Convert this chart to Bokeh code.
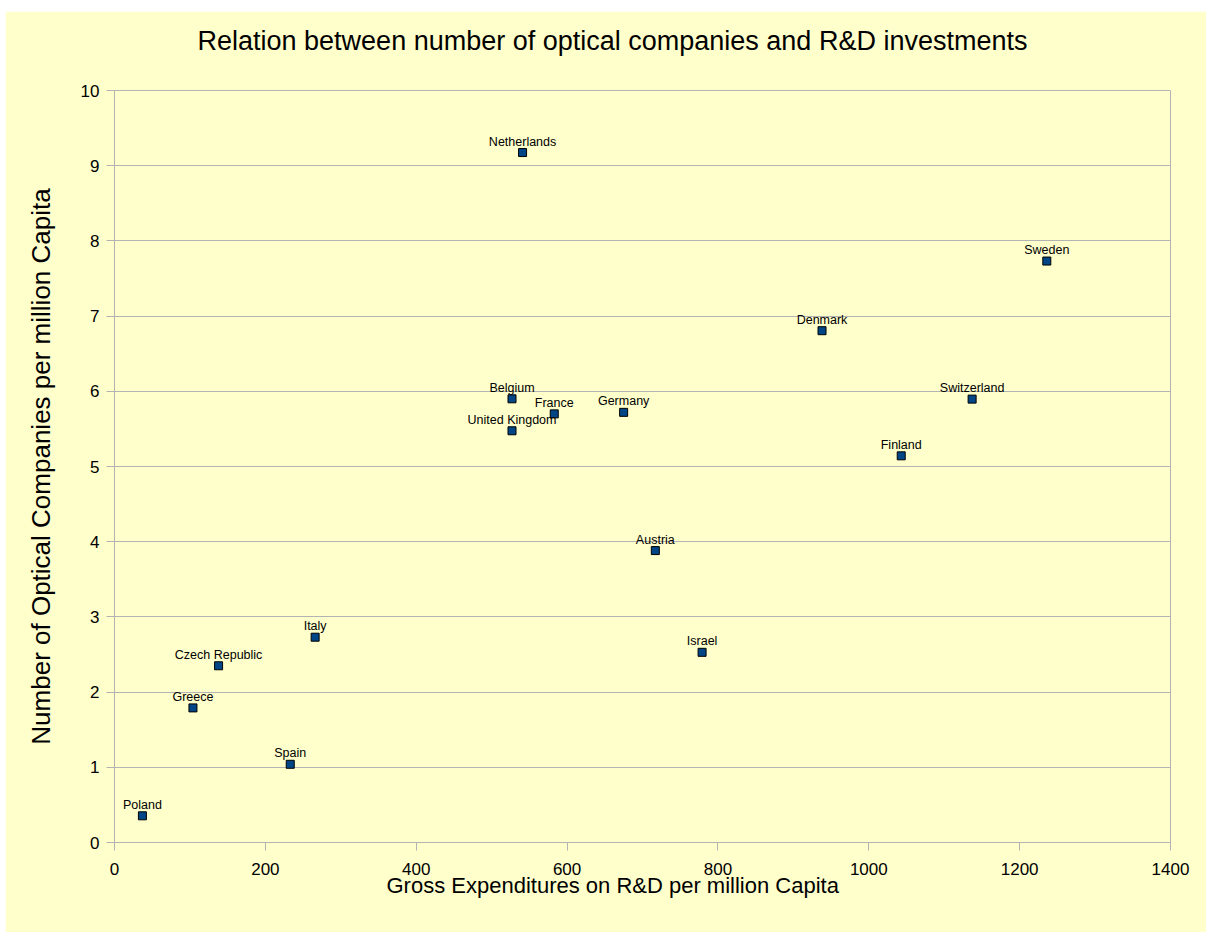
from bokeh.plotting import figure
from bokeh.models import ColumnDataSource, Range1d, FixedTicker, Title
from bokeh.embed import file_html
from bokeh.resources import INLINE
from bokeh.core.properties import value

countries = ["Poland", "Greece", "Czech Republic", "Italy", "Spain", "Netherlands",
             "Belgium", "United Kingdom", "France", "Germany", "Denmark", "Switzerland",
             "Finland", "Austria", "Israel", "Sweden"]
gerd = [37, 104, 138, 266, 233, 541, 527, 527, 583, 675, 938, 1137, 1043, 717, 779, 1236]
companies = [0.355, 1.79, 2.35, 2.73, 1.04, 9.175, 5.90, 5.475, 5.70, 5.72, 6.806, 5.896,
             5.142, 3.882, 2.529, 7.732]
x_ticks = [0, 200, 400, 600, 800, 1000, 1200, 1400]
y_ticks = [0, 1, 2, 3, 4, 5, 6, 7, 8, 9, 10]

BG = "#FFFFCC"
GRID = "#B3B3B3"
FONT = "Liberation Sans"

src = ColumnDataSource(dict(x=gerd, y=companies, name=countries))

p = figure(width=1201, height=921, output_backend="svg", toolbar_location=None,
           title_location=None,
           x_range=Range1d(0, 1400), y_range=Range1d(0, 10),
           min_border_left=109, min_border_right=36, min_border_top=79, min_border_bottom=90)
p.margin = (11, 0, 0, 5)
p.background_fill_color = BG
p.border_fill_color = BG
p.outline_line_color = GRID
p.outline_line_width = 1

# spacer between frame and title
p.add_layout(Title(text=" ", text_font_size="1px", standoff=32), "above")
p.add_layout(Title(text="Relation between number of optical companies and R&D investments",
                   align="left", offset=83, text_font=FONT, text_font_size="27px",
                   text_font_style="normal", text_color="black", standoff=0), "above")

p.xgrid.visible = False
p.ygrid.grid_line_color = GRID
p.ygrid.ticker = FixedTicker(ticks=y_ticks)

for ax in (p.xaxis[0], p.yaxis[0]):
    ax.axis_line_color = GRID
    ax.major_tick_line_color = GRID
    ax.minor_tick_line_color = None
    ax.major_tick_out = 8
    ax.major_tick_in = 0
    ax.major_label_text_font = FONT
    ax.major_label_text_font_size = "17px"
    ax.major_label_text_color = "black"
    ax.axis_label_text_font = FONT
    ax.axis_label_text_font_size = "26px"
    ax.axis_label_text_font_style = "normal"
    ax.axis_label_text_color = "black"

p.xaxis.ticker = FixedTicker(ticks=x_ticks)
p.yaxis.ticker = FixedTicker(ticks=y_ticks)
p.yaxis.axis_label = "Number of Optical Companies per million Capita"
p.xaxis.major_label_standoff = 12
p.yaxis.major_label_standoff = 7
p.yaxis.axis_label_standoff = 22

p.add_layout(Title(text="Gross Expenditures on R&D per million Capita",
                   align="left", offset=272, vertical_align="top",
                   text_font=FONT, text_font_size="22px", text_font_style="normal",
                   text_color="black", standoff=-10), "below")

p.scatter("x", "y", source=src, marker="square", size=8,
          fill_color="#004586", line_color="black", line_width=1)
p.text("x", "y", text="name", source=src, text_font=value(FONT),
       text_font_size="12.5px", text_color="black", text_align="center",
       text_baseline="alphabetic", y_offset=-11)

open("out.html", "w").write(file_html(p, INLINE))
